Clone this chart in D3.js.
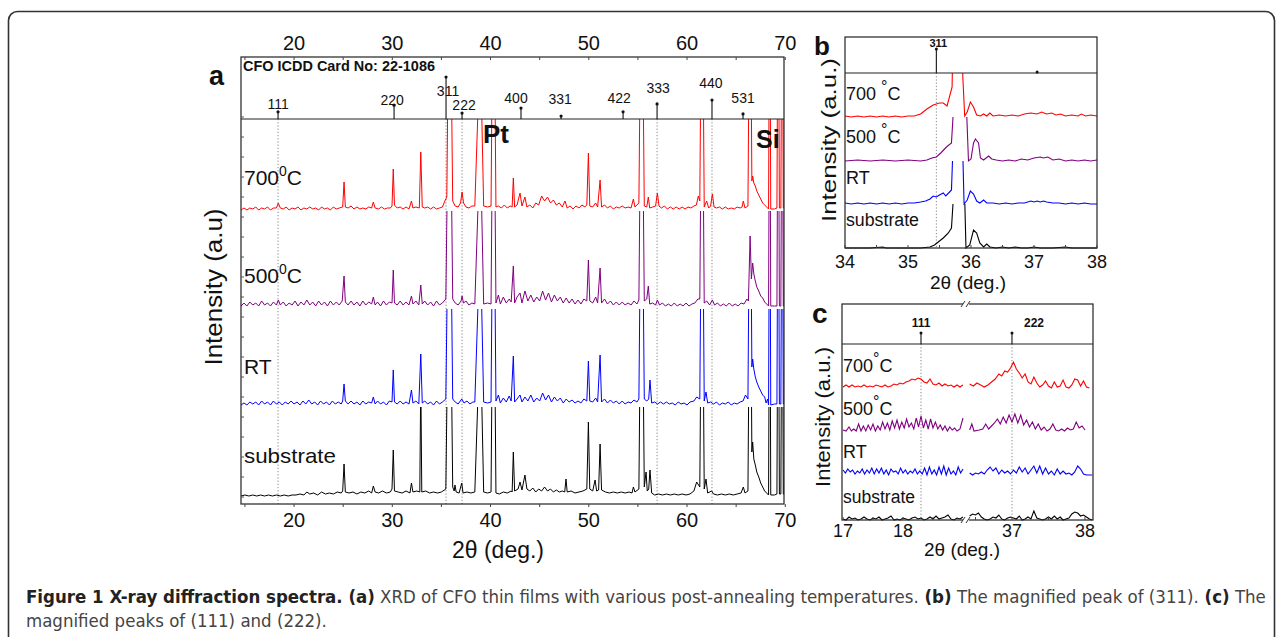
<!DOCTYPE html>
<html><head><meta charset="utf-8">
<script src="https://cdn.jsdelivr.net/npm/d3@7"></script>
<style>
body{margin:0;background:#fff}
svg{display:block}
text{font-family:"Liberation Sans",Arial,sans-serif;fill:#111}
</style></head>
<body><svg id="fig" width="1281" height="637"></svg>
<script>
// ---------------- DATA ----------------
const seriesNames = ["700", "500", "RT", "substrate"];
const tickLabelsA = [20, 30, 40, 50, 60, 70];
const tickLabelsB = [34, 35, 36, 37, 38];
const tickLabelsCLeft = [17, 18];
const tickLabelsCRight = [37, 38];

// CFO ICDD card 22-1086 (panel a)
const refHkl = ["111","220","311","222","400","331","422","333","440","531"];
const refPos = [18.37, 30.18, 35.47, 37.10, 43.10, 47.18, 53.49, 56.95, 62.54, 65.70];
const refInt = [17, 33, 100, 14, 26, 7, 17, 36, 45, 12];
const refDotted = ["111","311","222","333","440"];

// panel b reference
const refHklB = ["311", ""];
const refPosB = [35.45, 37.05];
const refIntB = [100, 4];
// panel c reference
const refHklC = ["111", "222"];
const refPosC = [18.3, 37.0];
const refIntC = [100, 100];

// Panel a spectra: [2theta, intensity (a.u.)]
const sevenA = [[14.6,1],[14.9,3],[15.2,1],[15.5,3],[15.8,2],[16.1,4],[16.4,1],[16.7,3],[17.0,2],[17.3,4],[17.6,1],[17.9,3],[18.2,3],[18.4,8],[18.6,3],[18.9,2],[19.2,4],[19.5,1],[19.8,3],[20.1,2],[20.4,4],[20.7,1],[21.0,3],[21.3,2],[21.6,4],[21.9,2],[22.2,3],[22.5,1],[22.8,4],[23.1,2],[23.4,3],[23.7,1],[24.0,4],[24.3,2],[24.6,3],[24.95,4],[25.09,29],[25.22,4],[25.5,3],[25.8,5],[26.1,2],[26.4,4],[26.7,2],[27.0,3],[27.3,2],[27.6,4],[27.9,3],[28.07,9],[28.25,3],[28.6,2],[28.9,4],[29.2,2],[29.5,3],[29.8,3],[29.97,5],[30.1,42],[30.22,6],[30.5,3],[30.8,4],[31.1,2],[31.4,4],[31.7,2],[31.95,10],[32.1,3],[32.4,4],[32.75,3],[32.9,59],[33.05,4],[33.3,3],[33.6,4],[33.9,2],[34.2,4],[34.5,2],[34.8,3],[35.1,4],[35.35,10],[35.55,14],[35.82,300],[36.15,10],[36.4,5],[36.7,4],[36.95,8],[37.1,19],[37.25,8],[37.5,4],[37.8,3],[38.1,5],[38.4,5],[38.95,170],[39.3,5],[39.7,4],[40.05,5],[40.3,300],[40.55,4],[40.8,5],[41.1,3],[41.4,6],[41.7,3],[42.0,5],[42.2,4],[42.32,33],[42.45,4],[42.7,6],[43.0,18],[43.2,5],[43.5,14],[43.7,4],[44.0,6],[44.3,3],[44.6,8],[44.9,6],[45.2,15],[45.5,10],[45.8,14],[46.1,8],[46.4,11],[46.7,6],[47.0,8],[47.3,4],[47.58,10],[47.8,3],[48.1,5],[48.4,2],[48.7,5],[49.0,3],[49.3,6],[49.6,4],[49.8,6],[49.96,58],[50.1,5],[50.4,4],[50.7,8],[50.9,4],[51.15,31],[51.3,4],[51.6,6],[51.9,3],[52.2,5],[52.5,2],[52.8,4],[53.1,3],[53.4,5],[53.7,3],[54.0,4],[54.3,3],[54.54,12],[54.7,4],[55.1,8],[55.37,300],[55.65,5],[55.9,4],[56.06,14],[56.2,3],[56.5,4],[56.8,5],[56.98,18],[57.15,5],[57.4,3],[57.7,5],[58.0,2],[58.3,4],[58.6,2],[58.9,4],[59.2,2],[59.5,4],[59.8,2],[60.1,4],[60.4,3],[60.7,5],[60.95,6],[61.15,15],[61.3,10],[61.53,300],[61.75,4],[62.0,10],[62.2,3],[62.4,5],[62.58,17],[62.75,4],[63.0,3],[63.3,4],[63.6,2],[63.9,4],[64.2,2],[64.5,3],[64.8,2],[65.1,4],[65.4,3],[65.6,4],[65.73,10],[65.9,3],[66.2,5],[66.42,300],[66.6,30],[66.68,35],[66.8,28],[66.95,25],[67.1,20],[67.3,16],[67.5,12],[67.7,8],[67.9,6],[68.1,4],[68.3,2],[68.42,300],[68.52,2],[68.9,2],[69.15,3],[69.28,300],[69.4,3],[69.55,3],[69.68,300],[69.8,3],[69.9,3]];

const fiveA = [[14.6,3],[14.9,6],[15.2,3],[15.5,7],[15.8,4],[16.1,6],[16.4,3],[16.7,8],[17.0,4],[17.3,6],[17.6,3],[17.9,7],[18.2,4],[18.4,9],[18.6,4],[18.9,7],[19.2,3],[19.5,6],[19.8,4],[20.1,8],[20.4,3],[20.7,7],[21.0,4],[21.3,9],[21.6,4],[21.9,7],[22.2,3],[22.5,8],[22.8,4],[23.1,7],[23.4,3],[23.7,8],[24.0,4],[24.3,7],[24.6,4],[24.9,8],[25.09,33],[25.22,7],[25.5,4],[25.8,8],[26.1,4],[26.4,7],[26.7,3],[27.0,8],[27.3,4],[27.6,7],[27.9,5],[28.07,12],[28.25,4],[28.5,7],[28.8,3],[29.1,8],[29.4,4],[29.7,7],[29.97,6],[30.1,39],[30.22,6],[30.5,4],[30.8,8],[31.1,4],[31.4,7],[31.7,4],[31.95,13],[32.1,5],[32.4,8],[32.7,4],[32.9,24],[33.05,5],[33.3,8],[33.6,4],[33.9,7],[34.2,3],[34.5,8],[34.8,4],[35.1,6],[35.45,10],[35.82,300],[36.15,10],[36.4,6],[36.7,4],[37.0,8],[37.1,13],[37.25,6],[37.5,8],[37.8,4],[38.1,6],[38.4,5],[38.95,170],[39.3,5],[39.7,6],[40.05,5],[40.3,300],[40.55,6],[40.8,14],[41.0,5],[41.3,12],[41.6,6],[41.9,10],[42.1,7],[42.32,43],[42.45,6],[42.7,12],[43.0,16],[43.2,6],[43.5,18],[43.8,8],[44.1,14],[44.4,7],[44.7,12],[45.0,8],[45.3,18],[45.6,9],[45.9,16],[46.2,7],[46.5,14],[46.8,8],[47.1,12],[47.4,6],[47.7,11],[48.0,6],[48.3,10],[48.6,5],[48.9,9],[49.2,5],[49.5,10],[49.8,8],[49.96,49],[50.1,8],[50.4,6],[50.7,12],[50.9,6],[51.15,41],[51.3,6],[51.6,10],[51.9,5],[52.2,8],[52.5,4],[52.8,7],[53.1,4],[53.4,7],[53.7,4],[54.0,6],[54.3,4],[54.6,8],[54.9,5],[55.1,9],[55.37,300],[55.65,8],[55.9,10],[56.06,23],[56.2,5],[56.5,6],[56.8,4],[56.98,9],[57.2,4],[57.5,6],[57.8,3],[58.1,5],[58.4,3],[58.7,6],[59.0,3],[59.3,5],[59.6,3],[59.9,6],[60.2,3],[60.5,5],[60.8,6],[61.1,10],[61.3,10],[61.53,300],[61.75,6],[62.0,8],[62.3,4],[62.58,9],[62.8,4],[63.1,6],[63.4,3],[63.7,5],[64.0,3],[64.3,6],[64.6,3],[64.9,5],[65.2,3],[65.5,6],[65.8,5],[66.1,10],[66.25,8],[66.42,73],[66.55,30],[66.68,46],[66.8,35],[66.95,28],[67.1,22],[67.3,18],[67.5,13],[67.7,11],[67.9,7],[68.1,5],[68.3,3],[68.42,300],[68.52,3],[68.9,3],[69.15,3],[69.28,300],[69.4,3],[69.55,3],[69.68,300],[69.8,3],[69.9,3]];

const rtA = [[14.6,2],[14.9,4],[15.2,2],[15.5,5],[15.8,3],[16.1,5],[16.4,2],[16.7,6],[17.0,3],[17.3,5],[17.6,2],[17.9,6],[18.2,3],[18.5,5],[18.8,2],[19.1,5],[19.4,3],[19.7,6],[20.0,3],[20.3,5],[20.6,2],[20.9,6],[21.2,3],[21.5,7],[21.8,3],[22.1,5],[22.4,2],[22.7,6],[23.0,3],[23.3,5],[23.6,2],[23.9,6],[24.2,3],[24.5,5],[24.8,3],[24.95,6],[25.09,23],[25.22,6],[25.5,3],[25.8,6],[26.1,3],[26.4,5],[26.7,2],[27.0,6],[27.3,3],[27.6,5],[27.9,4],[28.07,10],[28.25,3],[28.5,6],[28.8,3],[29.1,5],[29.4,2],[29.7,6],[29.97,5],[30.1,37],[30.22,5],[30.5,3],[30.8,6],[31.1,3],[31.4,5],[31.7,3],[31.95,17],[32.1,4],[32.4,6],[32.7,3],[32.9,53],[33.05,4],[33.3,6],[33.6,3],[33.9,5],[34.2,2],[34.5,6],[34.8,3],[35.1,5],[35.45,8],[35.82,300],[36.15,8],[36.4,5],[36.7,3],[37.07,8],[37.3,4],[37.6,6],[37.9,3],[38.2,5],[38.4,5],[38.95,170],[39.3,5],[39.7,4],[40.05,5],[40.3,300],[40.55,6],[40.8,12],[41.0,4],[41.3,9],[41.6,5],[41.9,11],[42.1,6],[42.32,51],[42.45,5],[42.7,8],[43.0,12],[43.2,5],[43.5,10],[43.8,6],[44.1,12],[44.4,5],[44.7,9],[45.0,6],[45.3,14],[45.6,7],[45.9,12],[46.2,5],[46.5,10],[46.8,6],[47.1,9],[47.4,4],[47.7,8],[48.0,5],[48.3,7],[48.6,4],[48.9,6],[49.2,4],[49.5,8],[49.8,6],[49.96,46],[50.1,6],[50.4,5],[50.7,9],[50.9,5],[51.15,52],[51.3,5],[51.6,8],[51.9,4],[52.2,7],[52.5,4],[52.8,6],[53.1,3],[53.4,6],[53.7,3],[54.0,5],[54.3,4],[54.6,7],[54.9,5],[55.1,8],[55.37,300],[55.65,8],[55.9,6],[56.1,8],[56.23,27],[56.4,4],[56.7,5],[57.0,3],[57.3,5],[57.6,3],[57.9,5],[58.2,3],[58.5,4],[58.8,2],[59.1,5],[59.4,3],[59.7,4],[60.0,2],[60.3,5],[60.7,6],[60.98,10],[61.3,8],[61.53,300],[61.75,6],[61.93,15],[62.1,4],[62.4,5],[62.7,3],[63.0,5],[63.3,2],[63.6,4],[63.9,3],[64.2,5],[64.5,2],[64.8,4],[65.1,3],[65.4,5],[65.7,6],[65.95,12],[66.2,8],[66.42,300],[66.6,40],[66.68,48],[66.8,38],[66.95,30],[67.1,25],[67.3,20],[67.5,16],[67.7,12],[67.9,10],[68.05,4],[68.2,8],[68.3,2],[68.42,300],[68.52,2],[68.9,3],[69.15,3],[69.28,300],[69.4,3],[69.55,3],[69.68,300],[69.8,3],[69.9,3]];

const subA = [[14.6,1],[15.0,2],[15.4,1],[15.8,2],[16.2,1],[16.6,2],[17.0,1],[17.4,2],[17.8,1],[18.2,2],[18.6,1],[19.0,2],[19.4,1],[19.8,2],[20.2,2],[20.6,3],[21.0,2],[21.3,5],[21.6,3],[22.0,4],[22.4,2],[22.8,5],[23.2,3],[23.6,4],[24.0,3],[24.4,5],[24.8,4],[24.95,6],[25.09,33],[25.22,5],[25.6,4],[26.0,5],[26.4,3],[26.8,5],[27.2,4],[27.6,6],[27.9,4],[28.07,11],[28.25,5],[28.6,4],[29.0,6],[29.4,4],[29.8,5],[29.97,8],[30.1,47],[30.22,6],[30.6,5],[31.0,4],[31.4,6],[31.8,4],[31.95,14],[32.1,5],[32.5,6],[32.8,5],[32.9,120],[33.0,5],[33.4,6],[33.8,4],[34.2,5],[34.6,4],[35.0,5],[35.45,8],[35.82,300],[36.15,10],[36.3,6],[36.38,12],[36.5,5],[36.8,4],[37.07,14],[37.2,4],[37.6,5],[38.0,4],[38.4,5],[38.95,170],[39.3,5],[39.7,4],[40.05,5],[40.3,300],[40.55,4],[40.9,3],[41.3,5],[41.7,4],[42.1,6],[42.2,5],[42.32,45],[42.45,6],[42.8,8],[43.0,15],[43.2,7],[43.5,22],[43.7,8],[44.0,6],[44.3,9],[44.6,5],[44.9,8],[45.2,6],[45.5,10],[45.8,6],[46.1,8],[46.4,5],[46.7,7],[47.0,5],[47.3,6],[47.55,5],[47.68,18],[47.8,5],[48.2,6],[48.6,4],[49.0,5],[49.4,6],[49.8,8],[49.96,75],[50.1,8],[50.4,6],[50.64,17],[50.8,6],[51.0,7],[51.15,53],[51.3,7],[51.7,5],[52.1,4],[52.5,5],[52.9,4],[53.3,5],[53.7,4],[54.1,5],[54.4,4],[54.54,10],[54.7,5],[55.1,8],[55.37,300],[55.65,10],[55.83,25],[55.95,6],[56.1,8],[56.23,27],[56.4,4],[56.7,2],[57.1,3],[57.5,2],[57.9,3],[58.3,2],[58.7,3],[59.1,2],[59.5,3],[59.9,2],[60.3,3],[60.7,6],[60.98,15],[61.3,10],[61.53,300],[61.75,8],[61.93,18],[62.1,4],[62.51,6],[62.7,3],[63.1,2],[63.5,3],[63.9,2],[64.3,3],[64.7,2],[65.1,3],[65.5,4],[65.73,10],[65.9,4],[66.2,6],[66.42,300],[66.6,45],[66.68,55],[66.8,38],[66.95,32],[67.1,25],[67.3,20],[67.5,14],[67.7,10],[67.9,6],[68.1,4],[68.3,2],[68.42,300],[68.52,2],[68.9,2],[69.15,3],[69.28,300],[69.4,3],[69.55,3],[69.68,300],[69.8,3],[69.9,3]];

// Panel b spectra (311 region)
const sevenB = [[34.0,1],[34.1,0],[34.2,1],[34.3,0],[34.4,1],[34.5,0],[34.6,1],[34.7,0],[34.8,1],[34.9,0],[35.0,1],[35.1,1],[35.2,3],[35.3,8],[35.4,12],[35.5,14],[35.56,14],[35.62,11],[35.7,30],[35.8,400],[35.87,40],[35.9,1],[35.94,5],[35.99,15],[36.04,10],[36.09,2],[36.15,1],[36.2,3],[36.25,1],[36.3,4],[36.35,1],[36.45,2],[36.55,1],[36.65,2],[36.75,1],[36.85,3],[36.95,4],[37.05,3],[37.12,5],[37.2,3],[37.28,4],[37.35,2],[37.42,3],[37.5,1],[37.6,2],[37.7,1],[37.75,3],[37.82,1],[37.9,2],[38.0,1]];
const fiveB = [[34.0,0],[34.2,1],[34.4,0],[34.6,1],[34.8,0],[35.0,1],[35.2,0],[35.3,1],[35.38,3],[35.45,4],[35.52,8],[35.61,14],[35.69,18],[35.72,50],[35.83,300],[35.93,50],[35.96,0],[36.0,2],[36.04,18],[36.07,22],[36.12,18],[36.15,3],[36.2,1],[36.28,5],[36.33,2],[36.4,1],[36.5,0],[36.6,1],[36.7,0],[36.8,2],[36.9,1],[37.0,3],[37.1,4],[37.15,3],[37.22,4],[37.3,1],[37.4,2],[37.5,0],[37.6,1],[37.7,0],[37.8,1],[37.9,0],[38.0,1]];
const rtB = [[34.0,1],[34.1,0],[34.2,1],[34.3,0],[34.4,1],[34.5,0],[34.6,1],[34.7,0],[34.8,1],[34.9,0],[35.0,1],[35.1,1],[35.2,2],[35.28,3],[35.35,5],[35.4,8],[35.45,7],[35.5,9],[35.56,11],[35.6,8],[35.66,12],[35.69,14],[35.71,50],[35.79,300],[35.87,50],[35.89,0],[35.94,4],[35.99,13],[36.04,10],[36.09,3],[36.14,1],[36.2,4],[36.25,1],[36.35,1],[36.45,0],[36.55,1],[36.65,0],[36.75,1],[36.85,1],[36.95,3],[37.0,2],[37.05,3],[37.1,2],[37.15,3],[37.2,2],[37.3,1],[37.4,1],[37.5,0],[37.6,1],[37.7,0],[37.8,1],[37.9,0],[38.0,0]];
const subB = [[34.0,0],[34.2,0],[34.4,0],[34.6,1],[34.65,0],[34.8,0],[35.0,0],[35.2,0],[35.35,1],[35.42,3],[35.5,7],[35.56,10],[35.64,15],[35.69,20],[35.72,50],[35.81,300],[35.9,50],[35.92,0],[35.98,3],[36.04,18],[36.09,15],[36.14,5],[36.2,1],[36.25,4],[36.3,1],[36.4,0],[36.5,1],[36.6,0],[36.7,1],[36.8,0],[36.9,0],[37.0,1],[37.1,0],[37.2,0],[37.3,0],[37.5,1],[37.6,0],[37.8,0],[38.0,0]];

// Panel c spectra (111 and 222 regions; null = axis break)
const sevenC = [[17.0,1],[17.05,3],[17.1,1],[17.15,3],[17.2,1],[17.25,2],[17.3,1],[17.35,3],[17.4,1],[17.45,2],[17.5,1],[17.55,3],[17.6,2],[17.65,1],[17.7,3],[17.75,1],[17.8,2],[17.85,4],[17.9,3],[17.95,5],[18.0,4],[18.05,6],[18.1,7],[18.15,9],[18.2,8],[18.25,10],[18.3,9],[18.35,6],[18.4,5],[18.45,9],[18.5,4],[18.55,3],[18.6,5],[18.65,2],[18.7,4],[18.75,2],[18.8,3],[18.85,1],[18.9,3],[18.95,1],[19.0,3],null,[36.42,4],[36.47,2],[36.52,5],[36.57,3],[36.62,1],[36.67,3],[36.72,6],[36.77,9],[36.82,14],[36.86,12],[36.9,17],[36.94,16],[36.98,20],[37.02,26],[37.06,19],[37.1,15],[37.14,10],[37.18,14],[37.22,6],[37.26,4],[37.3,11],[37.34,5],[37.38,1],[37.42,3],[37.46,7],[37.5,2],[37.54,0],[37.58,6],[37.62,1],[37.66,2],[37.7,8],[37.74,1],[37.78,0],[37.82,3],[37.86,9],[37.9,8],[37.94,2],[37.98,7],[38.02,1],[38.06,0]];
const fiveC = [[17.0,2],[17.05,1],[17.1,5],[17.14,1],[17.18,3],[17.22,1],[17.26,8],[17.3,1],[17.34,6],[17.38,1],[17.42,7],[17.46,2],[17.5,8],[17.54,1],[17.58,6],[17.62,2],[17.66,10],[17.7,3],[17.74,9],[17.78,2],[17.82,11],[17.86,4],[17.9,12],[17.94,3],[17.98,10],[18.02,4],[18.06,13],[18.1,5],[18.14,9],[18.18,3],[18.22,14],[18.26,5],[18.3,16],[18.34,4],[18.38,12],[18.42,3],[18.46,13],[18.5,4],[18.54,10],[18.58,3],[18.62,7],[18.66,2],[18.7,6],[18.74,1],[18.78,5],[18.82,2],[18.86,4],[18.9,1],[18.95,3],[19.0,14],null,[36.42,2],[36.45,8],[36.48,1],[36.55,2],[36.6,3],[36.64,8],[36.68,3],[36.72,6],[36.76,9],[36.8,13],[36.84,8],[36.88,15],[36.92,9],[36.96,17],[37.0,10],[37.04,18],[37.08,9],[37.12,17],[37.16,7],[37.2,12],[37.24,5],[37.28,10],[37.32,3],[37.36,8],[37.4,2],[37.44,5],[37.48,1],[37.52,3],[37.56,8],[37.6,2],[37.64,1],[37.68,3],[37.72,1],[37.76,4],[37.8,2],[37.84,3],[37.88,10],[37.92,4],[37.96,6],[38.0,2]];
const rtC = [[17.0,6],[17.04,3],[17.08,7],[17.12,4],[17.16,6],[17.2,2],[17.24,5],[17.28,3],[17.32,7],[17.36,2],[17.4,6],[17.44,3],[17.48,8],[17.52,2],[17.56,7],[17.6,3],[17.64,8],[17.68,2],[17.72,6],[17.76,1],[17.8,7],[17.84,4],[17.88,5],[17.92,2],[17.96,8],[18.0,3],[18.04,6],[18.08,2],[18.12,5],[18.16,3],[18.2,7],[18.24,2],[18.28,5],[18.32,2],[18.36,8],[18.4,1],[18.44,9],[18.48,2],[18.52,6],[18.56,1],[18.6,9],[18.64,2],[18.68,10],[18.72,1],[18.76,8],[18.8,2],[18.84,5],[18.88,1],[18.92,9],[18.96,3],[19.0,7],null,[36.42,3],[36.46,1],[36.5,3],[36.54,2],[36.58,4],[36.62,2],[36.66,6],[36.7,9],[36.74,5],[36.78,8],[36.82,2],[36.86,6],[36.9,3],[36.94,5],[36.98,2],[37.02,6],[37.06,3],[37.1,9],[37.14,4],[37.18,8],[37.22,2],[37.26,6],[37.3,10],[37.34,3],[37.38,10],[37.42,2],[37.46,8],[37.5,2],[37.54,5],[37.58,1],[37.62,7],[37.66,2],[37.7,5],[37.74,2],[37.78,3],[37.82,1],[37.86,4],[37.9,10],[37.94,7],[37.98,2],[38.02,1],[38.06,1],[38.1,1]];
const subC = [[17.0,1],[17.05,0],[17.1,3],[17.15,1],[17.2,2],[17.25,0],[17.3,1],[17.35,3],[17.4,1],[17.45,0],[17.5,2],[17.55,1],[17.6,3],[17.65,0],[17.7,1],[17.75,2],[17.8,4],[17.85,0],[17.9,1],[17.95,0],[18.0,2],[18.05,1],[18.1,0],[18.15,2],[18.2,3],[18.25,1],[18.3,2],[18.35,0],[18.4,1],[18.45,3],[18.5,1],[18.55,4],[18.6,1],[18.65,2],[18.7,3],[18.75,5],[18.8,1],[18.85,0],[18.9,2],[18.95,1],[19.0,3],null,[36.42,4],[36.46,6],[36.5,5],[36.54,7],[36.58,3],[36.62,1],[36.66,0],[36.7,1],[36.74,3],[36.78,2],[36.82,5],[36.86,1],[36.9,0],[36.94,2],[36.98,3],[37.02,2],[37.06,1],[37.1,4],[37.14,0],[37.18,1],[37.22,3],[37.26,1],[37.3,9],[37.34,2],[37.38,1],[37.42,0],[37.46,1],[37.5,3],[37.54,1],[37.58,4],[37.62,1],[37.66,3],[37.7,0],[37.74,1],[37.78,2],[37.82,6],[37.86,8],[37.9,7],[37.94,4],[37.98,5],[38.02,3],[38.06,1],[38.1,0]];

// ---------------- LAYOUT / STYLE ----------------
const colors = ["#ff0000", "#800080", "#0000ff", "#000000"];
const svg = d3.select("#fig");
const defs = svg.append("defs");
let clipN = 0;
function clipRect(x, y, w, h) {
  const id = "cl" + (clipN++);
  defs.append("clipPath").attr("id", id).append("rect").attr("x", x).attr("y", y).attr("width", w).attr("height", h);
  return "url(#" + id + ")";
}
function frame(l, t, r, b, mid) {
  svg.append("rect").attr("x", l).attr("y", t).attr("width", r - l).attr("height", b - t)
    .attr("fill", "none").attr("stroke", "#222").attr("stroke-width", 1.2);
  svg.append("line").attr("x1", l).attr("x2", r).attr("y1", mid).attr("y2", mid)
    .attr("stroke", "#222").attr("stroke-width", 1.2);
}
function txt(x, y, s, size, opts = {}) {
  const t = svg.append("text").attr("x", x).attr("y", y).style("font-size", size + "px").text(s);
  if (opts.anchor) t.attr("text-anchor", opts.anchor);
  if (opts.bold) t.style("font-weight", "bold");
  if (opts.len) t.attr("textLength", opts.len).attr("lengthAdjust", "spacingAndGlyphs");
  if (opts.rot) t.attr("transform", `rotate(-90,${x},${y})`);
  return t;
}
function seriesLabel(x, y, num, deg, size, supSize, space) {
  const t = svg.append("text").attr("x", x).attr("y", y).style("font-size", size + "px");
  t.append("tspan").text(num + (space ? " " : ""));
  t.append("tspan").style("font-size", supSize + "px").attr("dy", -size * 0.42).text(deg);
  t.append("tspan").attr("dy", size * 0.42).text("C");
}

// Figure border
svg.append("rect").attr("x", 8.5).attr("y", 11.5).attr("width", 1266).attr("height", 660)
  .attr("rx", 9).attr("fill", "none").attr("stroke", "#333").attr("stroke-width", 1.6);

// ===== Panel a =====
const A = {l: 241, r: 784, t: 57, card: 119, b: 504};
const xA = d3.scaleLinear().domain([14.6, 69.87]).range([A.l, A.r]);
const yA = d3.scaleLinear().domain([0, 393]).range([497, 104]);
const yCardA = d3.scaleLinear().domain([0, 100]).range([A.card, 77]);
const offA = [286, 188, 90, 0];
const topsA = [A.card, yA(offA[0]), yA(offA[1]), yA(offA[2])];
const dataA = [sevenA, fiveA, rtA, subA];

refHkl.forEach((h, i) => {
  if (refDotted.includes(h)) {
    svg.append("line").attr("x1", xA(refPos[i])).attr("x2", xA(refPos[i]))
      .attr("y1", A.card).attr("y2", A.b).attr("stroke", "#777").attr("stroke-width", 0.9)
      .attr("stroke-dasharray", "1.2,2");
  }
});
dataA.forEach((d, i) => {
  svg.append("path").datum(d)
    .attr("clip-path", clipRect(A.l, topsA[i], A.r - A.l, A.b - topsA[i]))
    .attr("fill", "none").attr("stroke", colors[i]).attr("stroke-width", 1)
    .attr("stroke-linejoin", "round")
    .attr("d", d3.line().defined(p => p !== null).x(p => xA(p[0])).y(p => yA(p[1] + offA[i])));
});
frame(A.l, A.t, A.r, A.b, A.card);
const labelBaseA = [109, 105, 96, 110, 103, 104, 103, 93, 88, 103];
const labelDxA = [0, -2, 2, 2, -5, -1, -4, 1, -1, 0];
refHkl.forEach((h, i) => {
  const x = xA(refPos[i]), y = yCardA(refInt[i]);
  svg.append("line").attr("x1", x).attr("x2", x).attr("y1", A.card).attr("y2", y).attr("stroke", "#111").attr("stroke-width", 1.1);
  svg.append("circle").attr("cx", x).attr("cy", y).attr("r", 1.6).attr("fill", "#111");
  txt(x + labelDxA[i], labelBaseA[i], h, 14, {anchor: "middle"});
});
txt(243, 71, "CFO ICDD Card No: 22-1086", 14, {bold: true, len: 192});
const tickA = d3.range(15, 70.1, 5);
tickA.forEach(v => {
  svg.append("line").attr("x1", xA(v)).attr("x2", xA(v)).attr("y1", A.t).attr("y2", A.t + 3).attr("stroke", "#444");
  svg.append("line").attr("x1", xA(v)).attr("x2", xA(v)).attr("y1", A.b).attr("y2", A.b + 3).attr("stroke", "#444");
});
tickLabelsA.forEach(v => {
  txt(xA(v), 50, v, 20, {anchor: "middle"});
  txt(xA(v), 527, v, 20, {anchor: "middle"});
});
yA.ticks(14).forEach(v => {
  if (yA(v) > A.t + 4 && yA(v) < A.b - 2)
    svg.append("line").attr("x1", A.l).attr("x2", A.l + 3).attr("y1", yA(v)).attr("y2", yA(v)).attr("stroke", "#555");
});
txt(498, 558, "2θ (deg.)", 23, {anchor: "middle"});
txt(222, 287, "Intensity (a.u)", 23, {anchor: "middle", rot: true, len: 157});
txt(209, 85, "a", 27, {bold: true});
txt(483, 143, "Pt", 26, {bold: true});
txt(756, 148, "Si", 25, {bold: true});
seriesLabel(244, 185, "700", "0", 21, 14, false);
seriesLabel(244, 283, "500", "0", 21, 14, false);
txt(244, 374, "RT", 21);
txt(244, 463, "substrate", 21, {len: 92});

// ===== Panel b =====
const B = {l: 845, r: 1097, t: 37, card: 73, b: 248};
const xB = d3.scaleLinear().domain([34, 38]).range([B.l, B.r]);
const yB = d3.scaleLinear().domain([0, 175]).range([B.b, B.card]);
const yCardB = d3.scaleLinear().domain([0, 100]).range([B.card, 49]);
const offB = [131, 87, 44, 0];
const topsB = [B.card, yB(offB[0]), yB(offB[1]), yB(offB[2])];
const dataB = [sevenB, fiveB, rtB, subB];
svg.append("line").attr("x1", xB(refPosB[0])).attr("x2", xB(refPosB[0])).attr("y1", B.card).attr("y2", B.b)
  .attr("stroke", "#777").attr("stroke-width", 0.9).attr("stroke-dasharray", "1.2,2");
dataB.forEach((d, i) => {
  svg.append("path").datum(d)
    .attr("clip-path", clipRect(B.l, topsB[i], B.r - B.l, B.b - topsB[i] + 1))
    .attr("fill", "none").attr("stroke", colors[i]).attr("stroke-width", 1.1)
    .attr("d", d3.line().x(p => xB(p[0])).y(p => yB(p[1] + offB[i])));
});
frame(B.l, B.t, B.r, B.b, B.card);
refPosB.forEach((p, i) => {
  const x = xB(p), y = yCardB(refIntB[i]);
  svg.append("line").attr("x1", x).attr("x2", x).attr("y1", B.card).attr("y2", y).attr("stroke", "#111").attr("stroke-width", 1.1);
  svg.append("circle").attr("cx", x).attr("cy", y).attr("r", 1.5).attr("fill", "#111");
  if (refHklB[i]) txt(x + 2, 47, refHklB[i], 11, {anchor: "middle", bold: true});
});
d3.range(34, 38.01, 0.5).forEach(v => {
  svg.append("line").attr("x1", xB(v)).attr("x2", xB(v)).attr("y1", B.b).attr("y2", B.b - 3).attr("stroke", "#444");
});
tickLabelsB.forEach(v => txt(xB(v), 268, v, 18, {anchor: "middle"}));
txt(968, 289, "2θ (deg.)", 19, {anchor: "middle"});
txt(836, 140, "Intensity (a.u.)", 21, {anchor: "middle", rot: true, len: 164});
txt(814, 55, "b", 26, {bold: true});
seriesLabel(846, 100, "700", "°", 18, 16, true);
seriesLabel(846, 143, "500", "°", 18, 16, true);
txt(846, 184, "RT", 18);
txt(846, 226, "substrate", 18, {len: 73});

// ===== Panel c =====
const C = {l: 842, r: 1093, t: 304, card: 344, b: 520, brk: 966};
const xCL = d3.scaleLinear().domain([17, 19.05]).range([843, C.brk]);
const xCR = d3.scaleLinear().domain([36.37, 38.11]).range([C.brk, C.r]);
const xC = v => v < 25 ? xCL(v) : xCR(v);
const yC = d3.scaleLinear().domain([0, 176]).range([C.b, C.card]);
const yCardC = d3.scaleLinear().domain([0, 100]).range([C.card, 333]);
const offC = [132, 88, 44, 0];
const topsC = [C.card, yC(offC[0]), yC(offC[1]), yC(offC[2])];
const dataC = [sevenC, fiveC, rtC, subC];
refPosC.forEach(p => {
  svg.append("line").attr("x1", xC(p)).attr("x2", xC(p)).attr("y1", C.card).attr("y2", C.b)
    .attr("stroke", "#777").attr("stroke-width", 0.9).attr("stroke-dasharray", "1.2,2");
});
dataC.forEach((d, i) => {
  svg.append("path").datum(d)
    .attr("clip-path", clipRect(C.l, topsC[i], C.r - C.l, C.b - topsC[i] + 1))
    .attr("fill", "none").attr("stroke", colors[i]).attr("stroke-width", 1.1)
    .attr("d", d3.line().defined(p => p !== null).x(p => xC(p[0])).y(p => yC(p[1] + offC[i])));
});
frame(C.l, C.t, C.r, C.b, C.card);
const labelDxC = [0, 22];
refPosC.forEach((p, i) => {
  const x = xC(p), y = yCardC(refIntC[i]);
  svg.append("line").attr("x1", x).attr("x2", x).attr("y1", C.card).attr("y2", y).attr("stroke", "#111").attr("stroke-width", 1.1);
  svg.append("circle").attr("cx", x).attr("cy", y).attr("r", 1.5).attr("fill", "#111");
  txt(x + labelDxC[i], 327, refHklC[i], 12, {anchor: "middle", bold: true});
});
[C.t, C.b].forEach(yy => {
  svg.append("rect").attr("x", C.brk - 3).attr("y", yy - 2).attr("width", 6).attr("height", 4).attr("fill", "#fff");
  [-3, 2].forEach(dx => svg.append("line").attr("x1", C.brk + dx - 2).attr("x2", C.brk + dx + 2)
    .attr("y1", yy + 3).attr("y2", yy - 3).attr("stroke", "#333").attr("stroke-width", 1));
});
[17, 17.5, 18, 18.5].forEach(v => svg.append("line").attr("x1", xCL(v)).attr("x2", xCL(v)).attr("y1", C.b).attr("y2", C.b - 3).attr("stroke", "#444"));
[36.5, 37, 37.5, 38].forEach(v => svg.append("line").attr("x1", xCR(v)).attr("x2", xCR(v)).attr("y1", C.b).attr("y2", C.b - 3).attr("stroke", "#444"));
tickLabelsCLeft.forEach(v => txt(xCL(v), 537, v, 18, {anchor: "middle"}));
tickLabelsCRight.forEach(v => txt(xCR(v), 537, v, 18, {anchor: "middle"}));
txt(962, 556, "2θ (deg.)", 19, {anchor: "middle"});
txt(830, 417, "Intensity (a.u.)", 21, {anchor: "middle", rot: true, len: 140});
txt(812, 323, "c", 28, {bold: true});
seriesLabel(843, 372, "700", "°", 18, 16, false);
seriesLabel(843, 415, "500", "°", 18, 16, false);
txt(843, 458, "RT", 18);
txt(843, 503, "substrate", 18, {len: 72});

// ===== Caption =====
const capFont = "'DejaVu Sans Condensed','Liberation Sans',sans-serif";
const cap1 = svg.append("text").attr("x", 0).attr("y", 0).style("font-family", capFont).style("font-size", "17px");
const capParts = [
  ["Figure 1 X-ray diffraction spectra.", true], [" (a)", true],
  [" XRD of CFO thin films with various post-annealing temperatures.", false],
  [" (b)", true], [" The magnified peak of (311).", false], [" (c)", true], [" The", false]
];
capParts.forEach(([s, b]) => cap1.append("tspan").style("font-weight", b ? "bold" : "normal")
  .style("fill", b ? "#222" : "#444").text(s));
const cap2 = svg.append("text").attr("x", 0).attr("y", 0).style("font-family", capFont).style("font-size", "17px")
  .style("fill", "#444").text("magnified peaks of (111) and (222).");
const kx = 1240 / cap1.node().getComputedTextLength();
cap1.attr("transform", `translate(26,603) scale(${kx},1)`);
cap2.attr("transform", `translate(26,627) scale(${kx},1)`);
</script>
</body></html>
